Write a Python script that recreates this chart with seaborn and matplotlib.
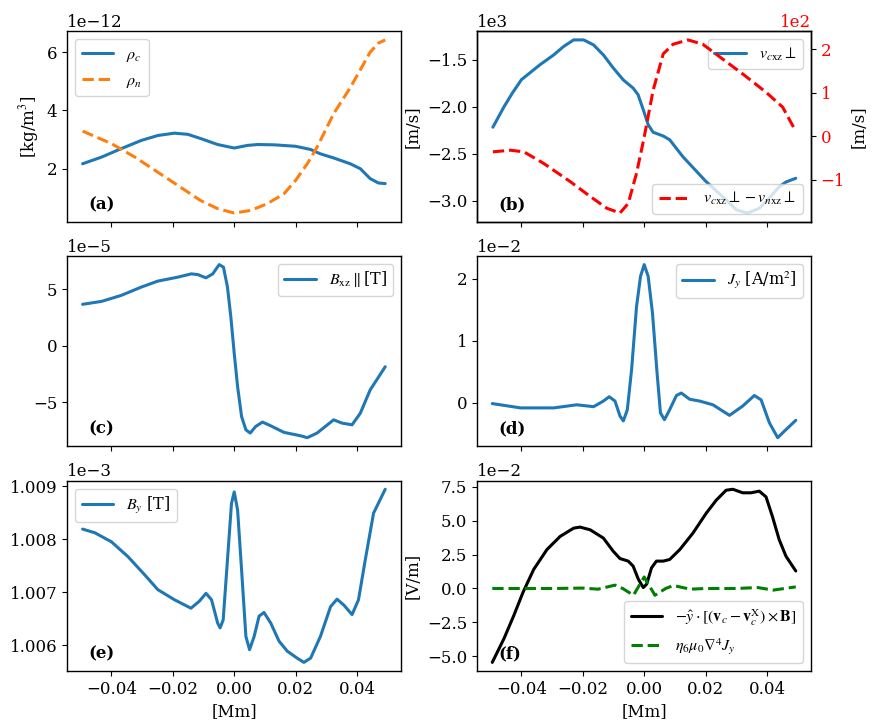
import matplotlib
matplotlib.use("Agg")
import matplotlib.pyplot as plt
import seaborn as sns
from matplotlib.ticker import MultipleLocator

# (a) densities [1e-12 kg/m^3]
x_rho_c = [-0.0494, -0.0432, -0.0368, -0.0303, -0.0249, -0.0195, -0.0151, -0.0108, -0.0054, 0.0,
           0.0043, 0.0076, 0.013, 0.02, 0.0249, 0.0281, 0.0324, 0.0378, 0.0411, 0.0443, 0.047, 0.0492]
rho_c = [2.17, 2.40, 2.69, 2.97, 3.14, 3.22, 3.18, 3.03, 2.83, 2.71,
         2.80, 2.83, 2.82, 2.77, 2.66, 2.51, 2.37, 2.17, 2.0, 1.66, 1.51, 1.49]
x_rho_n = [-0.0494, -0.04, -0.0324, -0.02, -0.011, -0.0054, 0.0, 0.0054, 0.0108, 0.0162, 0.02,
           0.0238, 0.027, 0.0324, 0.0378, 0.0416, 0.0443, 0.047, 0.0492]
rho_n = [3.29, 2.86, 2.40, 1.54, 0.91, 0.63, 0.48, 0.57, 0.80, 1.14, 1.60,
         2.17, 2.74, 3.89, 4.78, 5.49, 6.0, 6.31, 6.42]

# (b) velocities
x_vc = [-0.0493, -0.0457, -0.0430, -0.04, -0.0339, -0.0295, -0.0263, -0.0230, -0.0197, -0.0165,
        -0.0133, -0.01, -0.0068, -0.0036, -0.002, -0.0003, 0.0013, 0.0029, 0.0062, 0.0083, 0.0126,
        0.02, 0.0267, 0.0300, 0.0337, 0.0375, 0.0408, 0.0440, 0.0462, 0.0494]
v_c = [-2.216, -2.0, -1.855, -1.71, -1.55, -1.447, -1.358, -1.287, -1.287, -1.34,
       -1.447, -1.589, -1.713, -1.80, -1.87, -2.03, -2.19, -2.27, -2.31, -2.35, -2.53,
       -2.79, -2.99, -3.096, -3.13, -3.08, -2.97, -2.85, -2.80, -2.76]
x_dv = [-0.0493, -0.0436, -0.0392, -0.0328, -0.0241, -0.0176, -0.0122, -0.0079, -0.0052, -0.0025, 0.0,
        0.0029, 0.0062, 0.0094, 0.0143, 0.0191, 0.0256, 0.0321, 0.0397, 0.0451, 0.0492]
dv = [-0.357, -0.32, -0.357, -0.62, -1.04, -1.38, -1.65, -1.76, -1.54, -0.85, -0.02,
      1.05, 1.89, 2.11, 2.21, 2.11, 1.77, 1.43, 1.01, 0.67, 0.14]

# (c) B_xz parallel [1e-5 T]
x_bxz = [-0.0494, -0.0432, -0.0368, -0.0303, -0.0249, -0.0184, -0.014, -0.0119, -0.0092, -0.007,
         -0.0049, -0.0035, -0.0022, -0.0011, 0.0, 0.0011, 0.0024, 0.0038, 0.0052, 0.007, 0.0092,
         0.0119, 0.0162, 0.0216, 0.0238, 0.027, 0.0324, 0.0351, 0.0384, 0.0411, 0.0443, 0.0492]
bxz = [3.67, 3.93, 4.46, 5.19, 5.72, 6.07, 6.36, 6.30, 6.01, 6.36,
       7.18, 6.95, 5.19, 2.55, -0.67, -3.61, -6.25, -7.42, -7.71, -7.13, -6.74,
       -7.07, -7.65, -7.95, -8.12, -7.71, -6.54, -6.83, -6.98, -5.95, -3.90, -1.85]

# (d) J_y [1e-2 A/m^2]
x_jy = [-0.0495, -0.0403, -0.0295, -0.022, -0.0165, -0.0133, -0.0114, -0.0095, -0.0079, -0.0068,
        -0.0055, -0.0041, -0.0025, -0.0012, 0.0, 0.0013, 0.0027, 0.0042, 0.0053, 0.0066, 0.0083,
        0.0105, 0.0121, 0.0148, 0.0181, 0.0224, 0.0278, 0.0321, 0.0359, 0.0381, 0.0408, 0.0435,
        0.0462, 0.0494]
jy = [-0.01, -0.08, -0.08, -0.03, -0.06, 0.03, 0.10, 0.03, -0.21, -0.29,
      -0.11, 0.54, 1.55, 2.04, 2.23, 2.04, 1.45, 0.48, -0.16, -0.27, -0.11,
      0.12, 0.16, 0.06, 0.03, -0.03, -0.20, -0.05, 0.12, 0.05, -0.32, -0.56,
      -0.43, -0.28]

# (e) B_y [1e-3 T]
x_by = [-0.0494, -0.0454, -0.04, -0.0346, -0.0292, -0.0249, -0.0195, -0.0141, -0.0114, -0.0092,
        -0.0074, -0.0054, -0.0046, -0.0036, -0.0022, -0.0009, 0.0, 0.0011, 0.0024, 0.0038, 0.005,
        0.0065, 0.0081, 0.0097, 0.0119, 0.0146, 0.0173, 0.0205, 0.0227, 0.0249, 0.0281, 0.0314,
        0.0335, 0.0357, 0.0384, 0.0405, 0.0427, 0.0454, 0.0492]
by = [1.00819, 1.00812, 1.00795, 1.00767, 1.00733, 1.00705, 1.00686, 1.00670, 1.00683, 1.00698,
      1.00686, 1.00642, 1.00633, 1.00648, 1.00761, 1.00867, 1.00889, 1.00855, 1.00742, 1.00617, 1.00592,
      1.00617, 1.00655, 1.00662, 1.00642, 1.00608, 1.00589, 1.00576, 1.00568, 1.00576, 1.00617, 1.00673,
      1.00687, 1.00676, 1.00658, 1.00686, 1.00761, 1.00849, 1.00894]

# (f) electric field terms [1e-2 V/m]
x_ef = [-0.0495, -0.0457, -0.0425, -0.0395, -0.036, -0.0317, -0.0274, -0.023, -0.0209, -0.0176,
        -0.0133, -0.0101, -0.0079, -0.0052, -0.0036, -0.0019, -0.0003, 0.0008, 0.0024, 0.004,
        0.0062, 0.0083, 0.0116, 0.0159, 0.0202, 0.0235, 0.0267, 0.0289, 0.0321, 0.0348, 0.0375,
        0.0397, 0.0418, 0.044, 0.0462, 0.0494]
e_conv = [-5.45, -3.70, -2.0, -0.29, 1.41, 2.87, 3.84, 4.45, 4.53, 4.33,
          3.72, 2.75, 2.21, 2.02, 1.65, 0.68, 0.07, 0.32, 1.53, 2.02,
          2.02, 2.14, 2.87, 4.09, 5.55, 6.52, 7.25, 7.32, 7.06, 7.06, 7.18,
          6.76, 5.30, 3.60, 2.38, 1.29]
x_hyp = [-0.0495, -0.04, -0.03, -0.02, -0.015, -0.0095, -0.007, -0.0035, 0.0, 0.0035,
         0.007, 0.0095, 0.015, 0.02, 0.03, 0.037, 0.042, 0.0494]
e_hyp = [0.0, 0.0, 0.0, 0.03, -0.05, 0.25, 0.0, -0.5, 0.85, -0.5,
         0.0, 0.22, -0.05, 0.0, 0.0, 0.07, -0.12, 0.12]

sns.set_theme(style="ticks", context="notebook")
plt.rcParams.update({
    "font.family": ["DejaVu Serif"],
    "mathtext.fontset": "stix",
    "font.size": 12,
    "axes.labelsize": 12,
    "xtick.labelsize": 12,
    "ytick.labelsize": 12,
    "legend.fontsize": 11.5,
    "axes.edgecolor": "black",
    "axes.linewidth": 1.0,
    "xtick.color": "black",
    "ytick.color": "black",
    "xtick.major.size": 3.5,
    "ytick.major.size": 3.5,
    "xtick.major.width": 0.8,
    "ytick.major.width": 0.8,
    "text.color": "black",
    "axes.labelcolor": "black",
})

blue = "#1f77b4"
lw = 2.2

fig, axes = plt.subplots(3, 2, figsize=(8.72, 7.27), dpi=100, sharex=True)
fig.subplots_adjust(left=0.077, right=0.930, top=0.957, bottom=0.077, wspace=0.228, hspace=0.18)
ax_a, ax_b = axes[0]
ax_c, ax_d = axes[1]
ax_e, ax_f = axes[2]

# (a)
sns.lineplot(x=x_rho_c, y=[v * 1e-12 for v in rho_c], ax=ax_a, color=blue, lw=lw, label=r"$\rho_c$")
sns.lineplot(x=x_rho_n, y=[v * 1e-12 for v in rho_n], ax=ax_a, color="#ff7f0e", lw=lw,
             linestyle="--", label=r"$\rho_n$")
ax_a.set_ylabel(r"[kg/m$^3$]")
ax_a.legend(loc="upper left")

# (b)
sns.lineplot(x=x_vc, y=[v * 1e3 for v in v_c], ax=ax_b, color=blue, lw=lw,
             label=r"$v_{c\mathrm{xz}}\perp$")
ax_b.set_ylabel("[m/s]")
ax_b.legend(loc="upper right")
ax_b2 = ax_b.twinx()
sns.lineplot(x=x_dv, y=[v * 1e2 for v in dv], ax=ax_b2, color="red", lw=lw, linestyle="--",
             label=r"$v_{c\mathrm{xz}}\perp - v_{n\mathrm{xz}}\perp$")
ax_b2.set_ylabel("[m/s]")
ax_b2.legend(loc="lower right")
ax_b2.tick_params(axis="y", labelcolor="red")
ax_b2.ticklabel_format(axis="y", style="sci", scilimits=(0, 0))
ax_b2.yaxis.get_offset_text().set_color("red")

# (c)
sns.lineplot(x=x_bxz, y=[v * 1e-5 for v in bxz], ax=ax_c, color=blue, lw=lw,
             label=r"$B_{\mathrm{xz}}\parallel$[T]")
ax_c.legend(loc="upper right")

# (d)
sns.lineplot(x=x_jy, y=[v * 1e-2 for v in jy], ax=ax_d, color=blue, lw=lw,
             label=r"$J_y$ [A/m$^2$]")
ax_d.legend(loc="upper right")

# (e)
sns.lineplot(x=x_by, y=[v * 1e-3 for v in by], ax=ax_e, color=blue, lw=lw, label=r"$B_y$ [T]")
ax_e.legend(loc="upper left")

# (f)
sns.lineplot(x=x_ef, y=[v * 1e-2 for v in e_conv], ax=ax_f, color="black", lw=lw,
             label=r"$-\hat{y}\cdot[(\mathbf{v}_c-\mathbf{v}_c^{\mathrm{X}})\times\mathbf{B}]$")
sns.lineplot(x=x_hyp, y=[v * 1e-2 for v in e_hyp], ax=ax_f, color="green", lw=lw, linestyle="--",
             label=r"$\eta_6\mu_0\nabla^4 J_y$")
ax_f.set_ylabel("[V/m]")
ax_f.yaxis.set_major_locator(MultipleLocator(0.025))
ax_f.legend(loc="lower right")

for ax in [ax_e, ax_f]:
    ax.set_xlabel("[Mm]")
    ax.set_xticks([-0.04, -0.02, 0.0, 0.02, 0.04])

for ax, tag in zip([ax_a, ax_b, ax_c, ax_d, ax_e, ax_f], "abcdef"):
    ax.ticklabel_format(axis="y", style="sci", scilimits=(0, 0))
    ax.text(0.065, 0.045, f"({tag})", transform=ax.transAxes, fontweight="bold",
            fontsize=12, va="bottom", ha="left")

fig.savefig("out.png", dpi=100)
